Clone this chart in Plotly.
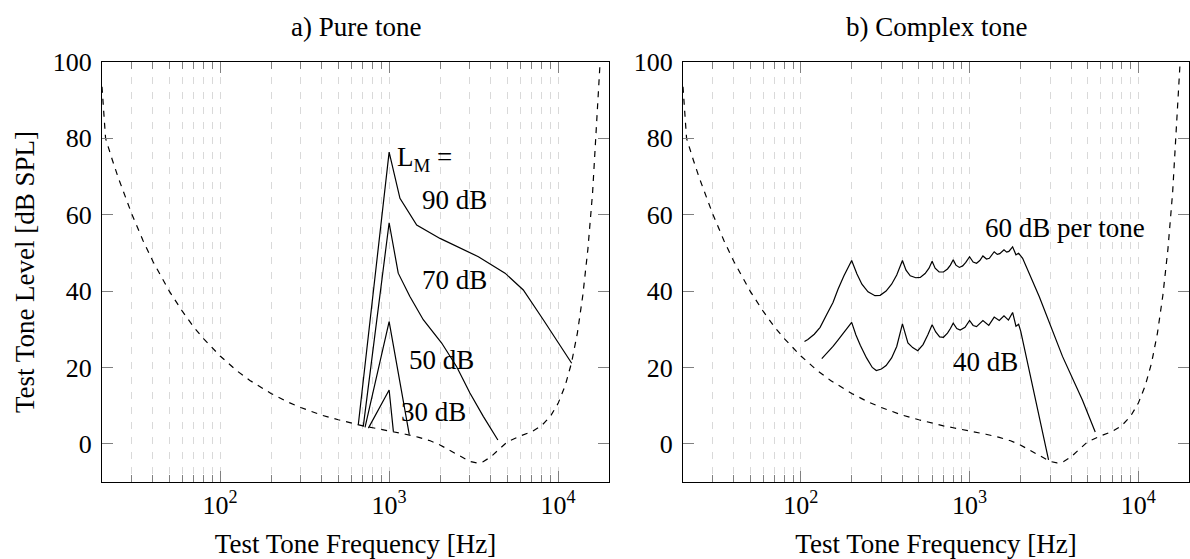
import numpy as np
import plotly.graph_objects as go

# ---------------- data ----------------
# threshold in quiet (dashed, both panels)
thr_freq = [20, 21, 23, 25, 30, 35, 40, 50, 60, 70, 80, 100, 125, 150, 200, 250, 300,
            400, 500, 600, 700, 800, 1000, 1250, 1500, 1750, 2000, 2500, 3000, 3300,
            3600, 4000, 4500, 5000, 6000, 7000, 8000, 9000, 10000, 11000, 12000, 13000,
            14000, 15000, 16000, 17000, 18000]
thr_db = [93.5, 80.0, 74.4, 69.6, 60.2, 53.2, 47.8, 40.0, 34.6, 30.5, 27.5, 23.0, 19.2,
          16.6, 13.2, 11.0, 9.5, 7.5, 6.3, 5.4, 4.7, 4.2, 3.4, 2.5, 1.7, 0.8, -0.3, -2.6,
          -4.6, -5.0, -4.7, -3.4, -1.2, 0.5, 2.1, 3.2, 4.8, 7.2, 10.6, 15.2, 21.2, 29.0,
          38.9, 51.0, 65.9, 83.9, 105.3]

# a) pure tone maskers at 1 kHz
pt30_freq = [754, 1000, 1060]
pt30_db = [4.1, 14.1, 3.2]
pt50_freq = [720, 1000, 1316]
pt50_db = [4.3, 32.0, 2.4]
pt70_freq = [703, 1000, 1132, 1327, 1592, 2046, 2510, 3006, 3607, 4400]
pt70_db = [4.5, 57.9, 44.7, 38.6, 32.5, 26.4, 20.2, 13.3, 7.2, 1.0]
pt90_freq = [657, 1000, 1159, 1456, 2000, 2626, 3374, 4853, 6223, 8170, 12030]
pt90_db = [5.0, 76.4, 64.3, 57.3, 53.8, 51.2, 49.0, 44.7, 40.3, 32.5, 21.1]

# b) complex tone (harmonics of 200 Hz)
ct60_freq = [105, 110, 120, 130, 142, 155, 166, 180, 200, 215, 230, 250, 275, 295, 320,
             345, 370, 400, 420, 445, 480, 510, 545, 575, 600, 625, 660, 700, 740, 770,
             800, 830, 870, 910, 950, 1000, 1050, 1100, 1150, 1200, 1260, 1310, 1400,
             1460, 1510, 1600, 1660, 1710, 1800, 1884, 1954, 2064, 2588, 3155, 3556,
             4667, 5560]
ct60_db = [26.8, 27.3, 28.7, 30.5, 33.8, 37.0, 40.5, 44.0, 48.0, 44.5, 41.8, 39.8, 38.8,
           38.9, 40.0, 41.8, 44.2, 48.0, 45.5, 44.0, 43.5, 43.6, 44.6, 46.0, 47.8, 46.0,
           45.0, 45.0, 45.8, 46.8, 48.2, 46.8, 46.2, 46.6, 47.5, 49.0, 47.6, 47.3, 48.0,
           49.2, 48.4, 48.6, 50.3, 49.6, 49.8, 50.8, 50.2, 50.4, 51.6, 49.5, 49.9, 48.6,
           38.6, 28.9, 22.9, 11.5, 3.1]
ct40_freq = [133, 145, 155, 165, 175, 187, 200, 212, 225, 245, 265, 280, 300, 320, 345,
             370, 400, 431, 460, 493, 530, 565, 600, 630, 665, 700, 740, 770, 800, 840,
             880, 940, 1000, 1050, 1100, 1200, 1300, 1400, 1500, 1600, 1700, 1800, 1884,
             1954, 2010, 2940]
ct40_db = [22.3, 24.0, 25.5, 27.0, 28.5, 30.0, 31.8, 28.5, 25.8, 22.5, 20.0, 19.2, 19.6,
           20.5, 22.5, 25.5, 31.4, 26.4, 25.2, 24.4, 26.0, 28.5, 31.2, 29.3, 28.0, 27.9,
           29.0, 30.2, 31.6, 30.2, 29.8, 30.5, 32.3, 31.0, 30.7, 32.3, 31.0, 33.2, 32.3,
           33.5, 32.4, 34.4, 30.8, 31.3, 29.5, -4.2]

major_ticks = [100, 1000, 10000]
major_text = ["10<sup>2</sup>", "10<sup>3</sup>", "10<sup>4</sup>"]
minor_ticks = [30, 40, 50, 60, 70, 80, 90, 200, 300, 400, 500, 600, 700, 800, 900,
               2000, 3000, 4000, 5000, 6000, 7000, 8000, 9000]
y_ticks = [0, 20, 40, 60, 80, 100]

# ---------------- figure ----------------
FONT = "Liberation Serif, DejaVu Serif, serif"
FS_TICK = 26
FS_TEXT = 27
W, H = 1190, 559

fig = go.Figure()


def line(xv, yv, xa, ya, dash=None):
    fig.add_trace(go.Scatter(x=xv, y=yv, mode="lines", xaxis=xa, yaxis=ya,
                             line=dict(color="black", width=1.2,
                                       dash=dash if dash else "solid"),
                             showlegend=False, hoverinfo="skip"))


for xa, ya in [("x", "y"), ("x2", "y2")]:
    line(thr_freq, thr_db, xa, ya, dash="6px,6px")

for fr, db in [(pt30_freq, pt30_db), (pt50_freq, pt50_db),
               (pt70_freq, pt70_db), (pt90_freq, pt90_db)]:
    line(fr, db, "x", "y")

for fr, db in [(ct60_freq, ct60_db), (ct40_freq, ct40_db)]:
    line(fr, db, "x2", "y2")

tick_gray = "#808080"
grid_gray = "#d9d9d9"

xcommon = dict(
    type="log", range=[np.log10(20), np.log10(20000)],
    tickmode="array", tickvals=major_ticks, ticktext=major_text,
    ticks="inside", ticklen=11, tickwidth=1, tickcolor=tick_gray,
    showline=True, linecolor="black", linewidth=1.3, mirror="ticks",
    showgrid=True, gridcolor=grid_gray, gridwidth=1, griddash="7px,8px",
    minor=dict(tickmode="array", tickvals=minor_ticks, ticks="inside", ticklen=7,
               tickwidth=1, tickcolor=tick_gray, showgrid=True, gridcolor=grid_gray,
               gridwidth=1, griddash="7px,8px"),
    zeroline=False, automargin=False,
    tickfont=dict(family=FONT, size=FS_TICK, color="black"),
    title=dict(text="Test Tone Frequency [Hz]",
               font=dict(family=FONT, size=FS_TEXT, color="black"), standoff=17),
)
ycommon = dict(
    range=[-10, 100], tickmode="array", tickvals=y_ticks,
    ticks="inside", ticklen=11, tickwidth=1, tickcolor=tick_gray,
    showline=True, linecolor="black", linewidth=1.3, mirror="ticks",
    showgrid=False, zeroline=False, automargin=False,
    tickfont=dict(family=FONT, size=FS_TICK, color="black"),
    ticklabelstandoff=4,
)

ydom = [1 - 482 / H, 1 - 62 / H]
fig.update_layout(
    template="none",
    width=W, height=H,
    margin=dict(l=0, r=0, t=0, b=0),
    paper_bgcolor="white", plot_bgcolor="white",
    font=dict(family=FONT, size=FS_TEXT, color="black"),
    xaxis=dict(domain=[102 / W, 609 / W], anchor="y", **xcommon),
    yaxis=dict(domain=ydom, anchor="x",
               title=dict(text="Test Tone Level [dB SPL]",
                          font=dict(family=FONT, size=FS_TEXT, color="black"), standoff=10),
               **ycommon),
    xaxis2=dict(domain=[683 / W, 1189 / W], anchor="y2", **xcommon),
    yaxis2=dict(domain=ydom, anchor="x2", **ycommon),
)

ann = []
ttl_y = 1 - 27 / H
ann.append(dict(text="a) Pure tone", x=0.5, xref="x domain", y=ttl_y, yref="paper",
                xanchor="center", yanchor="middle", showarrow=False))
ann.append(dict(text="b) Complex tone", x=0.5, xref="x2 domain", y=ttl_y, yref="paper",
                xanchor="center", yanchor="middle", showarrow=False))

# labels inside panel a
ann.append(dict(text="L<sub>M</sub> =", x=np.log10(1083), y=74.5, xref="x", yref="y",
                xanchor="left", yanchor="middle", showarrow=False))
for txt, fx, vy in [("90 dB", 2437, 63.9), ("70 dB", 2437, 42.9),
                    ("50 dB", 2044, 22.0), ("30 dB", 1833, 8.4)]:
    ann.append(dict(text=txt, x=np.log10(fx), y=vy, xref="x", yref="y",
                    xanchor="center", yanchor="middle", showarrow=False))
# labels inside panel b
ann.append(dict(text="60 dB per tone", x=np.log10(3657), y=56.5, xref="x2", yref="y2",
                xanchor="center", yanchor="middle", showarrow=False))
ann.append(dict(text="40 dB", x=np.log10(1240), y=21.5, xref="x2", yref="y2",
                xanchor="center", yanchor="middle", showarrow=False))

for a in ann:
    a["font"] = dict(family=FONT, size=FS_TEXT, color="black")
fig.update_layout(annotations=ann)

fig.write_html("out.html",
               config={"displayModeBar": False},
               post_script="document.body.style.margin='0';"
                           "document.body.style.overflow='hidden';")
